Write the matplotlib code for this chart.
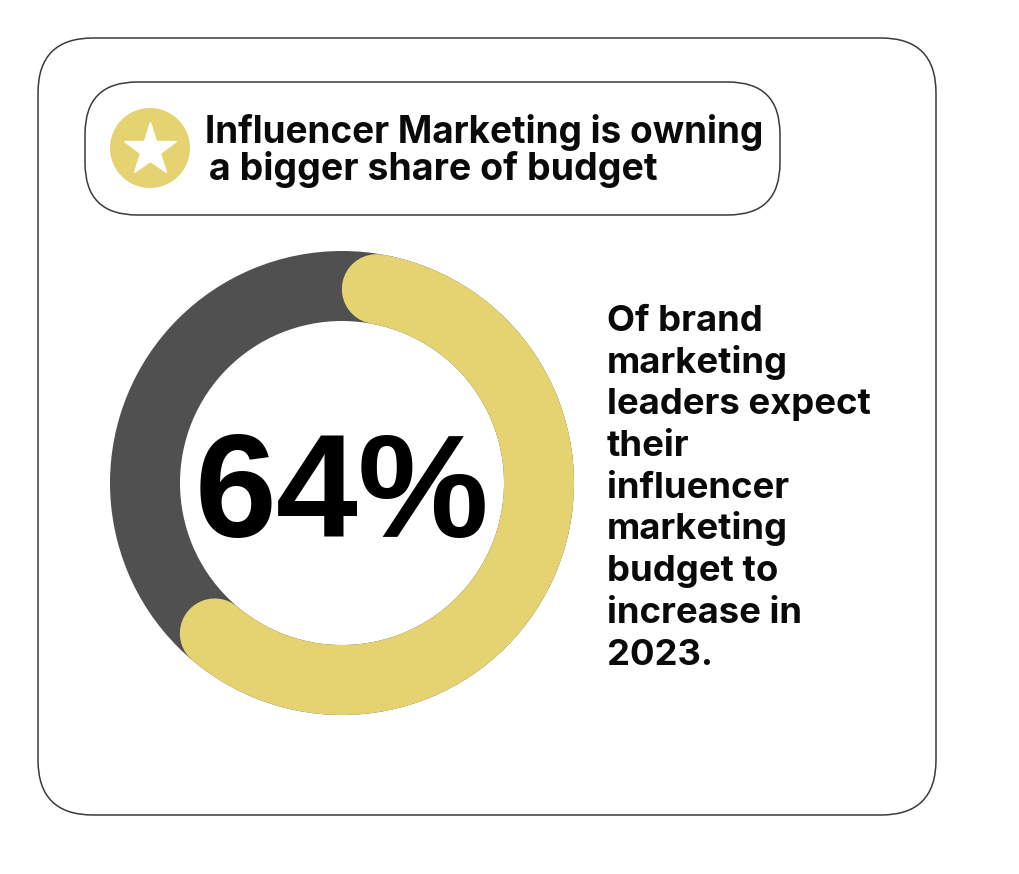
import numpy as np
import matplotlib
matplotlib.use("Agg")
import matplotlib.pyplot as plt
from matplotlib.patches import FancyBboxPatch, Wedge, Circle

# ---- data ----
share_values = [64, 36]
share_labels = ["Expect increase", "Other"]
headline = "64%"
title_lines = ["Influencer Marketing is owning", " a bigger share of budget"]
body_lines = ["Of brand", "marketing", "leaders expect", "their", "influencer",
              "marketing", "budget to", "increase in", "2023."]

YELLOW = "#E5D271"
GREY = "#505050"
EDGE = "#3a3a3a"

W, H = 1020, 874
fig = plt.figure(figsize=(W / 100, H / 100), dpi=100)
ax = fig.add_axes([0, 0, 1, 1])
ax.set_xlim(0, W)
ax.set_ylim(H, 0)
ax.set_aspect("equal")
ax.axis("off")
fig.patch.set_facecolor("white")

renderer = fig.canvas.get_renderer()

def fit_text(x, y, s, target_w, **kw):
    t = ax.text(x, y, s, fontsize=20, **kw)
    bb = t.get_window_extent(renderer=renderer)
    t.set_fontsize(20 * target_w / bb.width)
    return t

# outer card
ax.add_patch(FancyBboxPatch((38 + 55, 38 + 55), 898 - 110, 777 - 110,
                            boxstyle="round,pad=55", fc="white", ec=EDGE, lw=1.1))
# title pill
ax.add_patch(FancyBboxPatch((85 + 52, 82 + 52), 695 - 104, 133 - 104,
                            boxstyle="round,pad=52", fc="white", ec=EDGE, lw=1.1))
# star badge
ax.add_patch(Circle((150, 148), 40, fc=YELLOW, ec="none"))
ax.plot([150], [150], marker="*", ms=40, color="white", mec="white")

tfont = dict(family=["Inter", "DejaVu Sans"], weight="bold", color="#0a0a0a",
             va="baseline", ha="left")
fit_text(205, 143, title_lines[0], 561, **tfont)
fit_text(200, 180, title_lines[1], 458, **tfont)

# donut
cx, cy = 342, 483
r_out, ring_w = 232, 70
ax.add_patch(Wedge((cx, cy), r_out, 0, 360, width=ring_w, fc=GREY, ec="none"))
r_mid = r_out - ring_w / 2
frac = share_values[0] / sum(share_values)
cap_deg = np.degrees((ring_w / 2) / r_mid)
a0 = 90 - cap_deg
a1 = 90 - frac * 360 + cap_deg
th = np.radians(np.linspace(a0, a1, 400))
ax.plot(cx + r_mid * np.cos(th), cy - r_mid * np.sin(th), color=YELLOW,
        lw=ring_w * 72 / 100, solid_capstyle="round")

fit_text(cx, 537, headline, 295, family=["Liberation Sans", "DejaVu Sans"],
         weight="bold", color="black", ha="center", va="baseline")

# body text
bfont = dict(family=["Inter", "DejaVu Sans"], weight="bold", color="#0a0a0a",
             va="baseline", ha="left")
t0 = fit_text(607, 331, body_lines[2], 264, **bfont)
fs = t0.get_fontsize()
t0.remove()
for i, line in enumerate(body_lines):
    ax.text(607, 331 + i * 41.7, line, fontsize=fs, **bfont)

fig.savefig("out.png", dpi=100, facecolor="white")
